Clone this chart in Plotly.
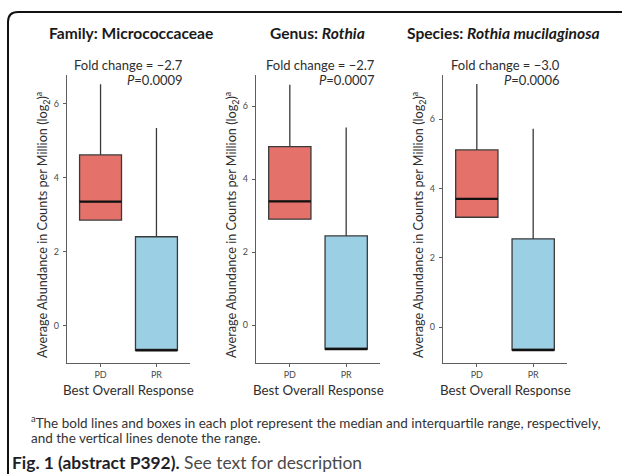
import plotly.graph_objects as go

# Box summaries (log2 CPM) per taxon, PD vs PR
categories = ["PD", "PR"]
panel_titles = ["Family: Micrococcaceae", "Genus: <i>Rothia</i>", "Species: <i>Rothia mucilaginosa</i>"]
fold_changes = ["\u22122.7", "\u22122.7", "\u22123.0"]
p_values = ["0.0009", "0.0007", "0.0006"]

pd_min = [2.86, 2.90, 3.17]
pd_q1 = [2.86, 2.90, 3.17]
pd_median = [3.36, 3.39, 3.70]
pd_q3 = [4.62, 4.89, 5.11]
pd_max = [6.53, 6.58, 7.01]

pr_min = [-0.66, -0.66, -0.66]
pr_q1 = [-0.66, -0.66, -0.66]
pr_median = [-0.66, -0.66, -0.66]
pr_q3 = [2.41, 2.44, 2.55]
pr_max = [5.35, 5.41, 5.72]

y_ticks = [0, 2, 4, 6]
y_ranges = [[-1.0, 6.78], [-1.04, 6.85], [-1.03, 7.27]]

W, H = 622, 474
FONT = "Lato"
PD_FILL = "#E4726B"
PR_FILL = "#9BCFE4"
BOX_LINE = "#3a3a3a"
BOX_WIDTH = 0.75


def fx(px):
    return px / W


def fy(py):
    return 1 - py / H


# pixel extents of each panel's plotting area
x_px = [(67, 190), (256, 380), (443, 567)]
y_px = (75, 363)
title_x = [130.5, 317, 503]
note_right = [185, 377, 562]

fig = go.Figure()
annotations = []

for i in range(3):
    n = "" if i == 0 else str(i + 1)
    xa, ya = "x" + n, "y" + n
    groups = [
        (1, PD_FILL, pd_min[i], pd_q1[i], pd_median[i], pd_q3[i], pd_max[i]),
        (2, PR_FILL, pr_min[i], pr_q1[i], pr_median[i], pr_q3[i], pr_max[i]),
    ]
    for pos, fill, lo, q1, med, q3, hi in groups:
        fig.add_trace(go.Box(
            x=[pos], lowerfence=[lo], q1=[q1], median=[med], q3=[q3], upperfence=[hi],
            width=BOX_WIDTH, whiskerwidth=0, fillcolor=fill,
            line=dict(color=BOX_LINE, width=1.3), boxpoints=False,
            xaxis=xa, yaxis=ya, showlegend=False, hoverinfo="skip",
        ))
        # bold median bar
        fig.add_trace(go.Scatter(
            x=[pos - BOX_WIDTH / 2, pos + BOX_WIDTH / 2], y=[med, med], mode="lines",
            line=dict(color="#111111", width=2.2), xaxis=xa, yaxis=ya,
            showlegend=False, hoverinfo="skip",
        ))

    axis_common = dict(
        showline=True, linecolor="#5e5e5e", linewidth=1.3, mirror=False,
        ticks="outside", ticklen=3, tickcolor="#5e5e5e", tickwidth=1,
        showgrid=False, zeroline=False,
        tickfont=dict(family=FONT, size=9, color="#4a4a4a"),
    )
    fig.layout["xaxis" + n] = dict(
        axis_common, domain=[fx(x_px[i][0]), fx(x_px[i][1])], range=[0.4, 2.6],
        tickvals=[1, 2], ticktext=categories, anchor=ya, ticklabelstandoff=0,
    )
    fig.layout["yaxis" + n] = dict(
        axis_common, domain=[fy(y_px[1]), fy(y_px[0])], range=y_ranges[i],
        tickvals=y_ticks, anchor=xa, ticklabelstandoff=2,
    )

    cx = (x_px[i][0] + x_px[i][1]) / 2
    annotations += [
        dict(text="<b>" + panel_titles[i] + "</b>", x=fx(title_x[i]), y=fy(33),
             font=dict(size=15.6, color="#1a1a1a")),
        dict(text="Fold change = " + fold_changes[i], x=fx(note_right[i]), y=fy(65),
             xanchor="right", font=dict(size=13, color="#2e2e2e")),
        dict(text="<i>P</i>=" + p_values[i], x=fx(note_right[i]), y=fy(80),
             xanchor="right", font=dict(size=13, color="#2e2e2e")),
        dict(text="Best Overall Response", x=fx(cx), y=fy(389.5),
             font=dict(size=13.3, color="#2e2e2e")),
        dict(text="Average Abundance in Counts per Million (log<sub>2</sub>)<sup>a</sup>",
             x=fx(x_px[i][0] - 25), y=fy(225), textangle=-90,
             font=dict(size=12.7, color="#2e2e2e")),
    ]

annotations += [
    dict(text="<sup>a</sup>The bold lines and boxes in each plot represent the median and interquartile range, respectively,",
         x=fx(29), y=fy(422), xanchor="left", font=dict(size=13.5, color="#333333")),
    dict(text="and the vertical lines denote the range.",
         x=fx(29), y=fy(438), xanchor="left", font=dict(size=13.5, color="#333333")),
    dict(text="<b>Fig. 1 (abstract P392).</b> <span style='color:#4a4a4a'>See text for description</span>",
         x=fx(10), y=fy(462), xanchor="left", font=dict(size=17.4, color="#1f1f2a")),
]
for a in annotations:
    a.setdefault("xanchor", "center")
    a.update(xref="paper", yref="paper", yanchor="middle", showarrow=False)
    a["font"].setdefault("family", FONT)

# frame: top edge and left edge with a rounded top-left corner
r = 10
frame = (f"M {fx(W)},{fy(12)} L {fx(8 + r)},{fy(12)} "
         f"Q {fx(8)},{fy(12)} {fx(8)},{fy(12 + r)} L {fx(8)},{fy(H)}")

fig.update_layout(
    width=W, height=H, margin=dict(l=0, r=0, t=0, b=0),
    paper_bgcolor="white", plot_bgcolor="white",
    font=dict(family=FONT),
    annotations=annotations,
    shapes=[dict(type="path", path=frame, xref="paper", yref="paper",
                 line=dict(color="#111111", width=2))],
)

fig.write_html("out.html")
